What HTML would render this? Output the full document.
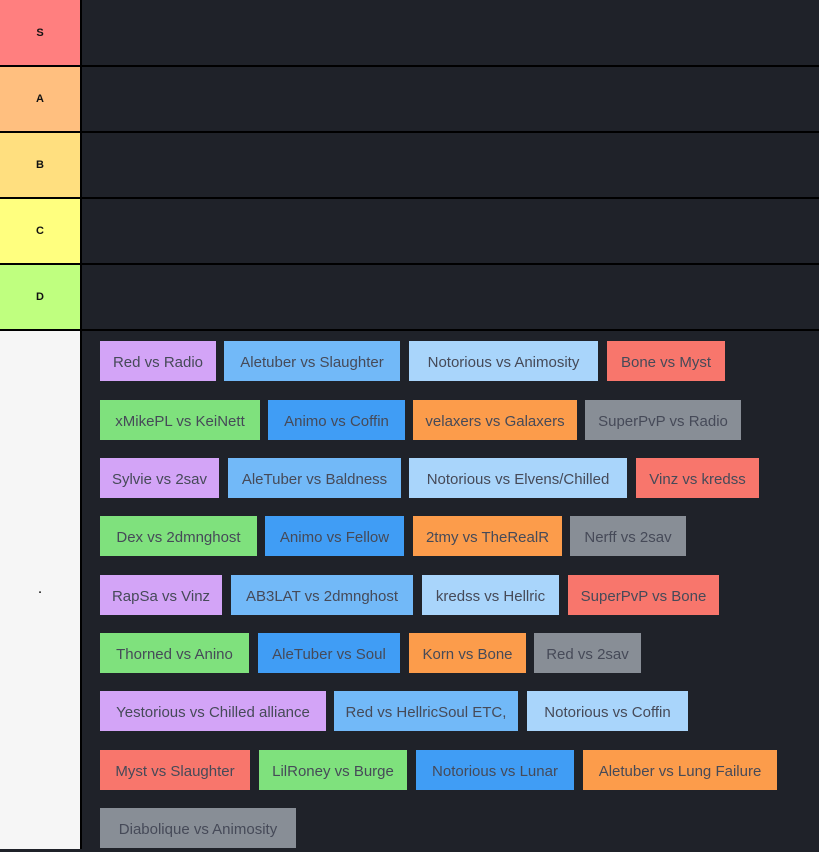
<!DOCTYPE html>
<html><head><meta charset="utf-8"><style>
*{margin:0;padding:0;box-sizing:border-box}
body{width:819px;height:849px;background:#1f2229;position:relative;overflow:hidden;font-family:"Liberation Sans",sans-serif}
.row{position:absolute;left:0;width:819px;background:#1f2229}
.lab{position:absolute;left:0;top:0;width:80px;height:100%;display:flex;align-items:center;justify-content:center;font-size:11px;font-weight:bold;color:#111}
.sep{position:absolute;left:0;width:819px;height:2px;background:#000}
.vs{position:absolute;left:80px;width:2px;top:0;height:849px;background:#000}
.i{position:absolute;height:40px;line-height:44px;text-align:center;font-size:15px;color:#464a58;white-space:nowrap}
.p{background:#d3a4f7}.lb{background:#72b9f8}.xb{background:#a9d5fb}.r{background:#f8766c}
.g{background:#7fe17d}.b{background:#409df5}.o{background:#fc9c4b}.gr{background:#888e96}
</style></head><body>
<div class="row" style="top:0;height:66px"><div class="lab" style="background:#ff7f7f">S</div></div>
<div class="row" style="top:66px;height:66px"><div class="lab" style="background:#ffbf7f">A</div></div>
<div class="row" style="top:132px;height:66px"><div class="lab" style="background:#ffdf7f">B</div></div>
<div class="row" style="top:198px;height:66px"><div class="lab" style="background:#ffff7f">C</div></div>
<div class="row" style="top:264px;height:66px"><div class="lab" style="background:#bfff7f">D</div></div>
<div class="row" style="top:330px;height:519px"><div class="lab" style="background:#f6f6f6">.</div></div>
<div class="sep" style="top:65px"></div><div class="sep" style="top:131px"></div><div class="sep" style="top:197px"></div><div class="sep" style="top:263px"></div><div class="sep" style="top:329px"></div>
<div class="vs"></div>

<div class="i p" style="left:100px;top:341px;width:116px">Red vs Radio</div>
<div class="i lb" style="left:224px;top:341px;width:176px">Aletuber vs Slaughter</div>
<div class="i xb" style="left:409px;top:341px;width:189px">Notorious vs Animosity</div>
<div class="i r" style="left:607px;top:341px;width:118px">Bone vs Myst</div>

<div class="i g" style="left:100px;top:400px;width:160px">xMikePL vs KeiNett</div>
<div class="i b" style="left:268px;top:400px;width:137px">Animo vs Coffin</div>
<div class="i o" style="left:413px;top:400px;width:164px">velaxers vs Galaxers</div>
<div class="i gr" style="left:585px;top:400px;width:156px">SuperPvP vs Radio</div>

<div class="i p" style="left:100px;top:458px;width:119px">Sylvie vs 2sav</div>
<div class="i lb" style="left:228px;top:458px;width:173px">AleTuber vs Baldness</div>
<div class="i xb" style="left:409px;top:458px;width:218px">Notorious vs Elvens/Chilled</div>
<div class="i r" style="left:636px;top:458px;width:123px">Vinz vs kredss</div>

<div class="i g" style="left:100px;top:516px;width:157px">Dex vs 2dmnghost</div>
<div class="i b" style="left:265px;top:516px;width:139px">Animo vs Fellow</div>
<div class="i o" style="left:413px;top:516px;width:149px">2tmy vs TheRealR</div>
<div class="i gr" style="left:570px;top:516px;width:116px">Nerff vs 2sav</div>

<div class="i p" style="left:100px;top:575px;width:122px">RapSa vs Vinz</div>
<div class="i lb" style="left:231px;top:575px;width:182px">AB3LAT vs 2dmnghost</div>
<div class="i xb" style="left:422px;top:575px;width:137px">kredss vs Hellric</div>
<div class="i r" style="left:568px;top:575px;width:151px">SuperPvP vs Bone</div>

<div class="i g" style="left:100px;top:633px;width:149px">Thorned vs Anino</div>
<div class="i b" style="left:258px;top:633px;width:142px">AleTuber vs Soul</div>
<div class="i o" style="left:409px;top:633px;width:117px">Korn vs Bone</div>
<div class="i gr" style="left:534px;top:633px;width:107px">Red vs 2sav</div>

<div class="i p" style="left:100px;top:691px;width:226px">Yestorious vs Chilled alliance</div>
<div class="i lb" style="left:334px;top:691px;width:184px">Red vs HellricSoul ETC,</div>
<div class="i xb" style="left:527px;top:691px;width:161px">Notorious vs Coffin</div>

<div class="i r" style="left:100px;top:750px;width:150px">Myst vs Slaughter</div>
<div class="i g" style="left:259px;top:750px;width:148px">LilRoney vs Burge</div>
<div class="i b" style="left:416px;top:750px;width:158px">Notorious vs Lunar</div>
<div class="i o" style="left:583px;top:750px;width:194px">Aletuber vs Lung Failure</div>

<div class="i gr" style="left:100px;top:808px;width:196px">Diabolique vs Animosity</div>
</body></html>
